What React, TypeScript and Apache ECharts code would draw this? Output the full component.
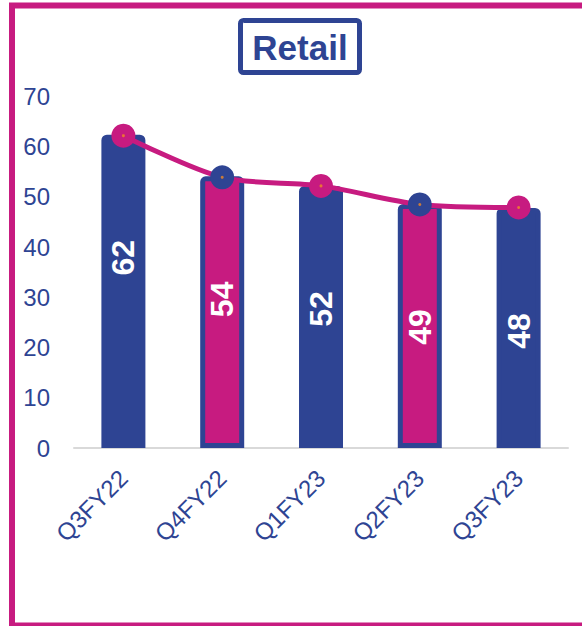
import React, { useEffect, useRef } from "react";
import * as echarts from "echarts";

const categories = ["Q3FY22", "Q4FY22", "Q1FY23", "Q2FY23", "Q3FY23"];
const barValues = [62.4, 54.1, 52.2, 48.6, 47.8];
const lineValues = [62.2, 53.9, 52.2, 48.5, 47.9];
const yTicks = { min: 0, max: 70, interval: 10 };
const titleText = "Retail";

const BLUE = "#2E4493";
const MAGENTA = "#C71B80";
const ORANGE = "#F08A24";
const FONT = "'Liberation Sans', Arial, sans-serif";

const barColors = [BLUE, MAGENTA, BLUE, MAGENTA, BLUE];
const markerColors = [MAGENTA, BLUE, MAGENTA, BLUE, MAGENTA];

export default function App() {
  const ref = useRef<HTMLDivElement>(null);

  useEffect(() => {
    if (!ref.current) return;
    const chart = echarts.init(ref.current, undefined, { renderer: "svg" });
    chart.setOption({
      animation: false,
      backgroundColor: "#ffffff",
      grid: { left: 74, right: 14, top: 96.5, bottom: 178, containLabel: false },
      xAxis: {
        type: "category",
        data: categories,
        axisTick: { show: false },
        axisLine: { show: true, lineStyle: { color: "#d9d9d9", width: 2 } },
        axisLabel: {
          rotate: 45,
          margin: 26,
          color: BLUE,
          fontSize: 24,
          fontFamily: FONT,
        },
        z: 1,
      },
      yAxis: {
        type: "value",
        min: yTicks.min,
        max: yTicks.max,
        interval: yTicks.interval,
        splitLine: { show: false },
        axisLine: { show: false },
        axisTick: { show: false },
        axisLabel: { color: BLUE, fontSize: 24, fontFamily: FONT, margin: 24 },
      },
      series: [
        {
          type: "bar",
          barWidth: 44,
          z: 2,
          data: barValues.map((v, i) => ({
            value: v,
            itemStyle: {
              color: barColors[i],
              borderColor: BLUE,
              borderWidth: 5,
              borderRadius: [3, 3, 0, 0],
            },
          })),
          label: {
            show: true,
            position: ["50%", 123],
            rotate: 90,
            align: "center",
            verticalAlign: "middle",
            color: "#ffffff",
            fontWeight: "bold",
            fontSize: 32,
            fontFamily: FONT,
            formatter: (p: any) => String(Math.round(p.value)),
          },
        },
        {
          type: "line",
          smooth: 0.3,
          z: 5,
          symbol: "circle",
          symbolSize: 24,
          lineStyle: { color: MAGENTA, width: 5 },
          data: lineValues.map((v, i) => ({
            value: v,
            itemStyle: { color: markerColors[i], borderWidth: 0 },
          })),
        },
        {
          type: "scatter",
          z: 6,
          symbol: "circle",
          symbolSize: 3,
          itemStyle: { color: ORANGE },
          data: lineValues,
        },
      ],
      graphic: [
        {
          type: "rect",
          z: 100,
          shape: { x: 12, y: 5.5, width: 600, height: 620 },
          style: { fill: "none", stroke: MAGENTA, lineWidth: 6 },
          silent: true,
        },
        {
          type: "rect",
          z: 100,
          shape: { x: 240.5, y: 20.5, width: 119, height: 52, r: 3 },
          style: { fill: "#ffffff", stroke: BLUE, lineWidth: 5 },
          silent: true,
        },
        {
          type: "text",
          z: 101,
          x: 300,
          y: 47,
          style: {
            text: titleText,
            fill: BLUE,
            font: `bold 35px ${FONT}`,
            align: "center",
            verticalAlign: "middle",
          },
          silent: true,
        },
      ],
    });
    return () => chart.dispose();
  }, []);

  return (
    <div
      ref={ref}
      style={{ position: "absolute", left: 0, top: 0, width: 582, height: 626 }}
    />
  );
}
